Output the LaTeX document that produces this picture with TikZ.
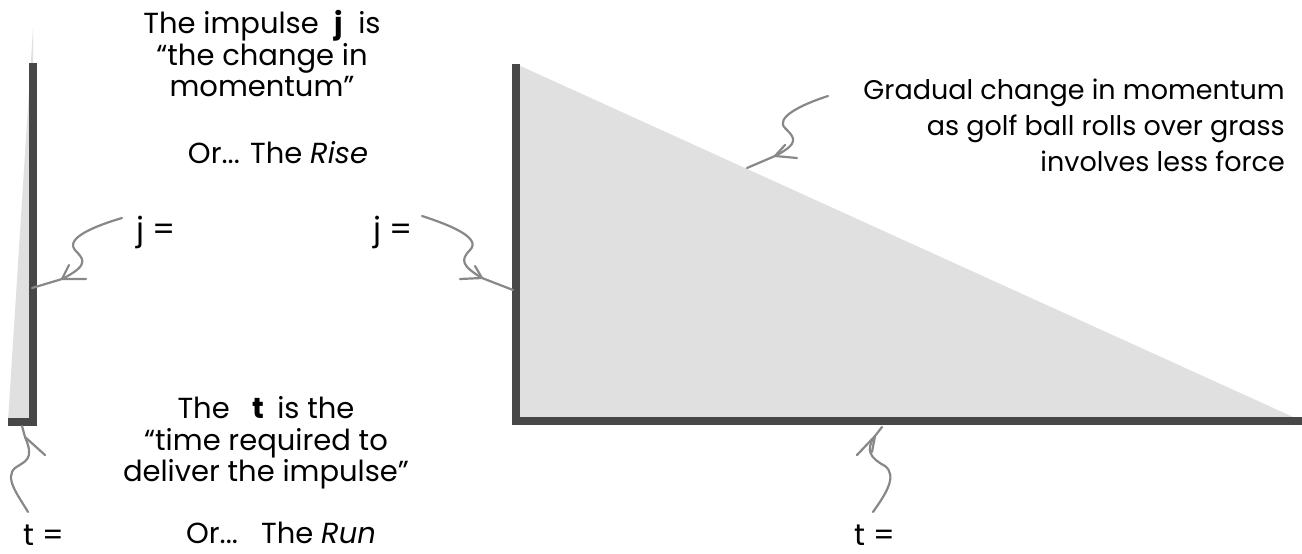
\documentclass[tikz,border=0pt]{standalone}
\usepackage{fontspec}
\setmainfont{Poppins}
\usetikzlibrary{arrows.meta}
\definecolor{barcol}{HTML}{474747}
\definecolor{lightfill}{HTML}{E0E0E0}
\definecolor{arrcol}{HTML}{888888}
\tikzset{
  txt/.style={inner sep=0pt, align=center, font=\fontsize{29}{31.5}\selectfont},
  eqtxt/.style={inner sep=0pt, anchor=base, font=\fontsize{32}{34}\selectfont},
  squig/.style={draw=arrcol, line width=2.2pt, line cap=round, line join=round},
}
\begin{document}
\begin{tikzpicture}[x=1pt,y=-1pt]
\useasboundingbox (0,0) rectangle (1302,554);
% shaded areas
\fill[lightfill] (8,421) -- (33,421) -- (33,28) -- cycle;
\fill[lightfill] (516,64) -- (516,421) -- (1302,421) -- cycle;
% axes bars
\fill[barcol] (29,63) rectangle (37,422);
\fill[barcol] (8,418) rectangle (37,426);
\fill[barcol] (512,64) rectangle (520,425);
\fill[barcol] (512,417) rectangle (1302,425);
% texts
\node[txt] (top) at (262,54) {The impulse \ \textbf{j} \ is\\“the change in\\momentum”};
\node[txt, anchor=base] (rise) at (278,163) {Or... The \textit{Rise}};
\node[txt] (bot) at (266,443) {The \ \ \textbf{t} \,is the\\“time required to\\deliver the impulse”};
\node[txt, anchor=base] (run) at (281,543) {Or...\ \ \ The \textit{Run}};
\node[txt, align=right, anchor=east, font=\fontsize{27}{36}\selectfont] (golf) at (1285,125) {Gradual change in momentum\\as golf ball rolls over grass\\involves less force};
\node[eqtxt] (jl) at (156,240) {j =};
\node[eqtxt] (jr) at (393,240) {j =};
\node[eqtxt, font=\fontsize{30}{32}\selectfont] (tl) at (44,545) {t =};
\node[eqtxt, font=\fontsize{30}{32}\selectfont] (tr) at (875,545) {t =};
% arrow coordinates
\coordinate (jlS) at (122,218); \coordinate (jlT) at (62,279); \coordinate (jlE) at (32,288);
\coordinate (jrS) at (422,216); \coordinate (jrT) at (482,278); \coordinate (jrE) at (513,290);
\coordinate (gS) at (828,96); \coordinate (gT) at (775,156); \coordinate (gE) at (747,168);
\coordinate (tlS) at (28,512); \coordinate (tlT) at (25,437); \coordinate (tlE) at (22,426);
\coordinate (trS) at (873,512); \coordinate (trT) at (875,436); \coordinate (trE) at (882,427);
% squiggle arrows
\draw[squig] (jlS) .. controls (95,226) and (65,238) .. (75,250) .. controls (82,258) and (92,264) .. (jlT) -- (jlE);
\draw[squig] (86,279) -- (jlT) -- (69,265);
\draw[squig] (jrS) .. controls (450,225) and (482,238) .. (470,250) .. controls (460,260) and (462,266) .. (jrT) -- (jrE);
\draw[squig] (460,279) -- (jrT) -- (475,266);
\draw[squig] (gS) .. controls (800,105) and (775,118) .. (785,128) .. controls (795,138) and (800,143) .. (gT) -- (gE);
\draw[squig] (797,158) -- (gT) -- (785,145);
\draw[squig] (tlS) .. controls (18,495) and (4,478) .. (15,468) .. controls (25,461) and (35,460) .. (tlT) -- (tlE);
\draw[squig] (45,455) -- (tlT);
\draw[squig] (trS) .. controls (885,495) and (898,476) .. (885,466) .. controls (870,458) and (865,450) .. (trT) -- (trE);
\draw[squig] (857,455) -- (trT) -- (872,452);
\end{tikzpicture}
\end{document}
